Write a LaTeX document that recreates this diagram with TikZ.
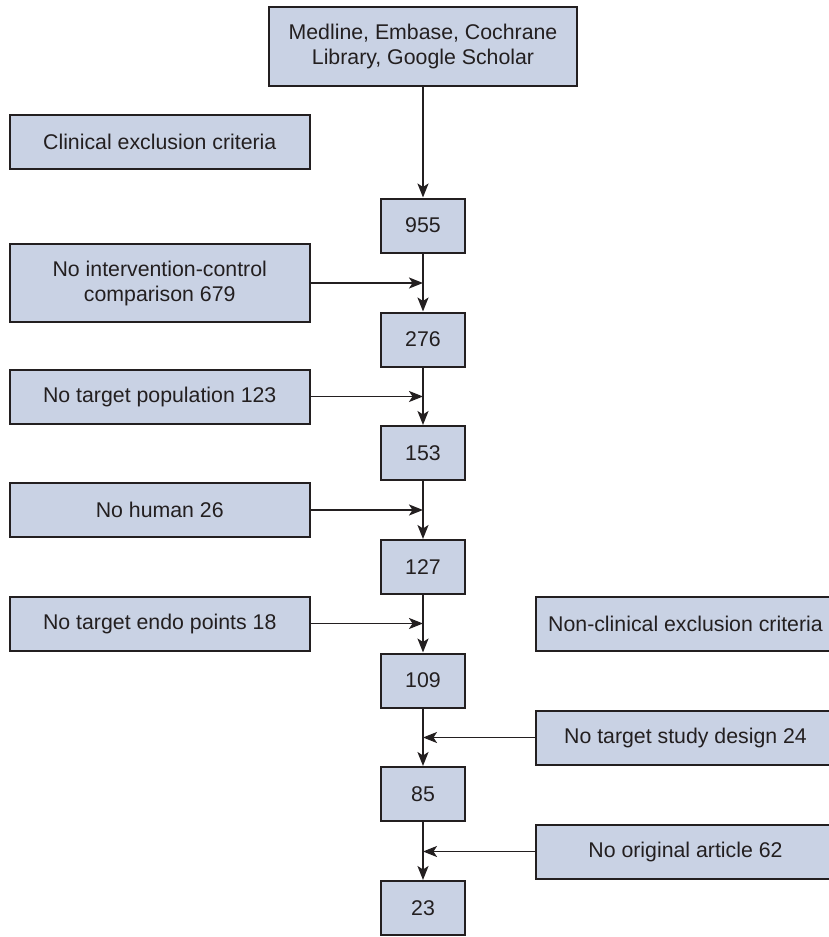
\documentclass[tikz,border=0pt]{standalone}
\usepackage{fontspec}
\setmainfont{Liberation Sans}
\usetikzlibrary{arrows.meta}
\definecolor{boxfill}{RGB}{201,210,228}
\definecolor{boxline}{RGB}{35,31,32}
\begin{document}
\begin{tikzpicture}[x=1pt,y=-1pt,
  every node/.style={font=\fontsize{21.3}{25}\selectfont, text=boxline},
  box/.style={draw=boxline, fill=boxfill, line width=2pt, inner sep=0pt, align=center},
  numbox/.style={box, minimum width=84pt, minimum height=54pt},
  leftbox/.style={box, minimum width=300.5pt, minimum height=54pt},
  rightbox/.style={box, minimum width=299pt, minimum height=54pt},
  arr/.style={draw=boxline, line width=1.7pt, -{Stealth[length=14pt,width=11pt,inset=3.5pt]}}
]
\useasboundingbox (0,0) rectangle (828,937);
\node[box, minimum width=308pt, minimum height=79pt] (src) at (423,46.5) {Medline, Embase, Cochrane\\Library, Google Scholar};
\node[leftbox] (clin) at (159.75,142) {Clinical exclusion criteria};
\node[numbox] (n955) at (423,225.5) {955};
\node[leftbox, minimum height=78pt] (interv) at (159.75,283) {No intervention-control\\comparison 679};
\node[numbox] (n276) at (423,339.5) {276};
\node[leftbox] (pop) at (159.75,396.5) {No target population 123};
\node[numbox] (n153) at (423,453) {153};
\node[leftbox] (hum) at (159.75,510) {No human 26};
\node[numbox] (n127) at (423,567) {127};
\node[leftbox] (endo) at (159.75,623.5) {No target endo points 18};
\node[rightbox] (nonclin) at (685.5,623.5) {Non-clinical exclusion criteria};
\node[numbox] (n109) at (423,680.5) {109};
\node[rightbox] (design) at (685.5,737.5) {No target study design 24};
\node[numbox] (n85) at (423,794) {85};
\node[rightbox] (art) at (685.5,851.5) {No original article 62};
\node[numbox] (n23) at (423,908) {23};

\draw[arr] (src) -- (n955);
\draw[arr] (n955) -- (n276);
\draw[arr] (n276) -- (n153);
\draw[arr] (n153) -- (n127);
\draw[arr] (n127) -- (n109);
\draw[arr] (n109) -- (n85);
\draw[arr] (n85) -- (n23);

\draw[arr] (interv.east) -- (interv.east -| n955.center);
\draw[arr] (pop.east) -- (pop.east -| n276.center);
\draw[arr] (hum.east) -- (hum.east -| n153.center);
\draw[arr] (endo.east) -- (endo.east -| n127.center);
\draw[arr] (design.west) -- (design.west -| n109.center);
\draw[arr] (art.west) -- (art.west -| n85.center);
\end{tikzpicture}
\end{document}
